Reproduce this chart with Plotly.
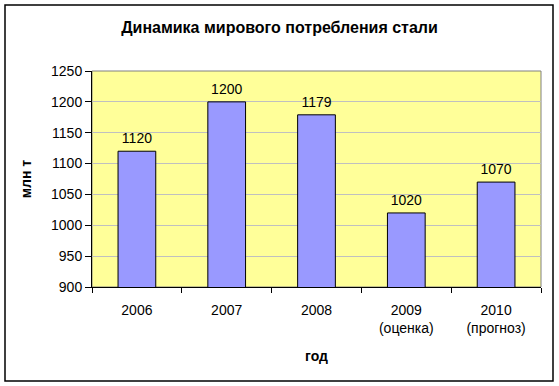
import plotly.graph_objects as go

categories = ["2006", "2007", "2008", "2009<br>(оценка)", "2010<br>(прогноз)"]
values = [1120, 1200, 1179, 1020, 1070]
y_ticks = [900, 950, 1000, 1050, 1100, 1150, 1200, 1250]

FONT = "Liberation Sans, Arial, sans-serif"

fig = go.Figure()
fig.add_trace(go.Bar(
    x=categories, y=values,
    marker=dict(color="#9999FF", line=dict(color="black", width=1)),
    cliponaxis=False, width=0.42,
))
fig.add_trace(go.Scatter(
    x=categories, y=values, mode="markers+text",
    marker=dict(size=6, opacity=0),
    text=[str(v) for v in values], textposition="top center",
    textfont=dict(family=FONT, size=14, color="black"),
    cliponaxis=False, hoverinfo="skip",
))

L, R, T, B = 92, 18, 71, 99
W, H = 559, 386
pw, ph = W - L - R, H - T - B

fig.update_layout(
    width=W, height=H,
    margin=dict(l=L, r=R, t=T, b=B),
    paper_bgcolor="white", plot_bgcolor="#FFFF99",
    font=dict(family=FONT, size=14, color="black"),
    title=dict(text="<b>Динамика мирового потребления стали</b>", x=0.5, xanchor="center",
               y=1 - 27 / H, yanchor="middle", font=dict(size=16, family=FONT)),
    showlegend=False,
    xaxis=dict(
        type="category",
        showline=True, linecolor="black", linewidth=1,
        ticks="outside", tickson="boundaries", ticklen=5, tickcolor="black",
        ticklabelstandoff=10, tickangle=0,
        showgrid=False,
        title=dict(text="<b>год</b>", font=dict(size=14), standoff=16),
    ),
    yaxis=dict(
        range=[900, 1250], tickvals=y_ticks,
        showline=True, linecolor="black", linewidth=1,
        ticks="outside", ticklen=6, tickcolor="black",
        showgrid=True, gridcolor="#C0C0C0", gridwidth=1,
        zeroline=False,
        title=dict(text="<b>млн т</b>", font=dict(size=14), standoff=16),
    ),
    shapes=[
        dict(type="rect", xref="paper", yref="paper", x0=0, x1=1, y0=0, y1=1,
             line=dict(color="#808080", width=1), layer="below"),
        dict(type="rect", xref="paper", yref="paper",
             x0=(5 - L) / pw, x1=(553 - L) / pw,
             y0=(H - B - 381) / ph, y1=(H - B - 5) / ph,
             line=dict(color="black", width=1.5)),
    ],
)

fig.write_html("out.html", config={"displayModeBar": False},
               post_script="document.body.style.margin='0';document.body.style.overflow='hidden';")
